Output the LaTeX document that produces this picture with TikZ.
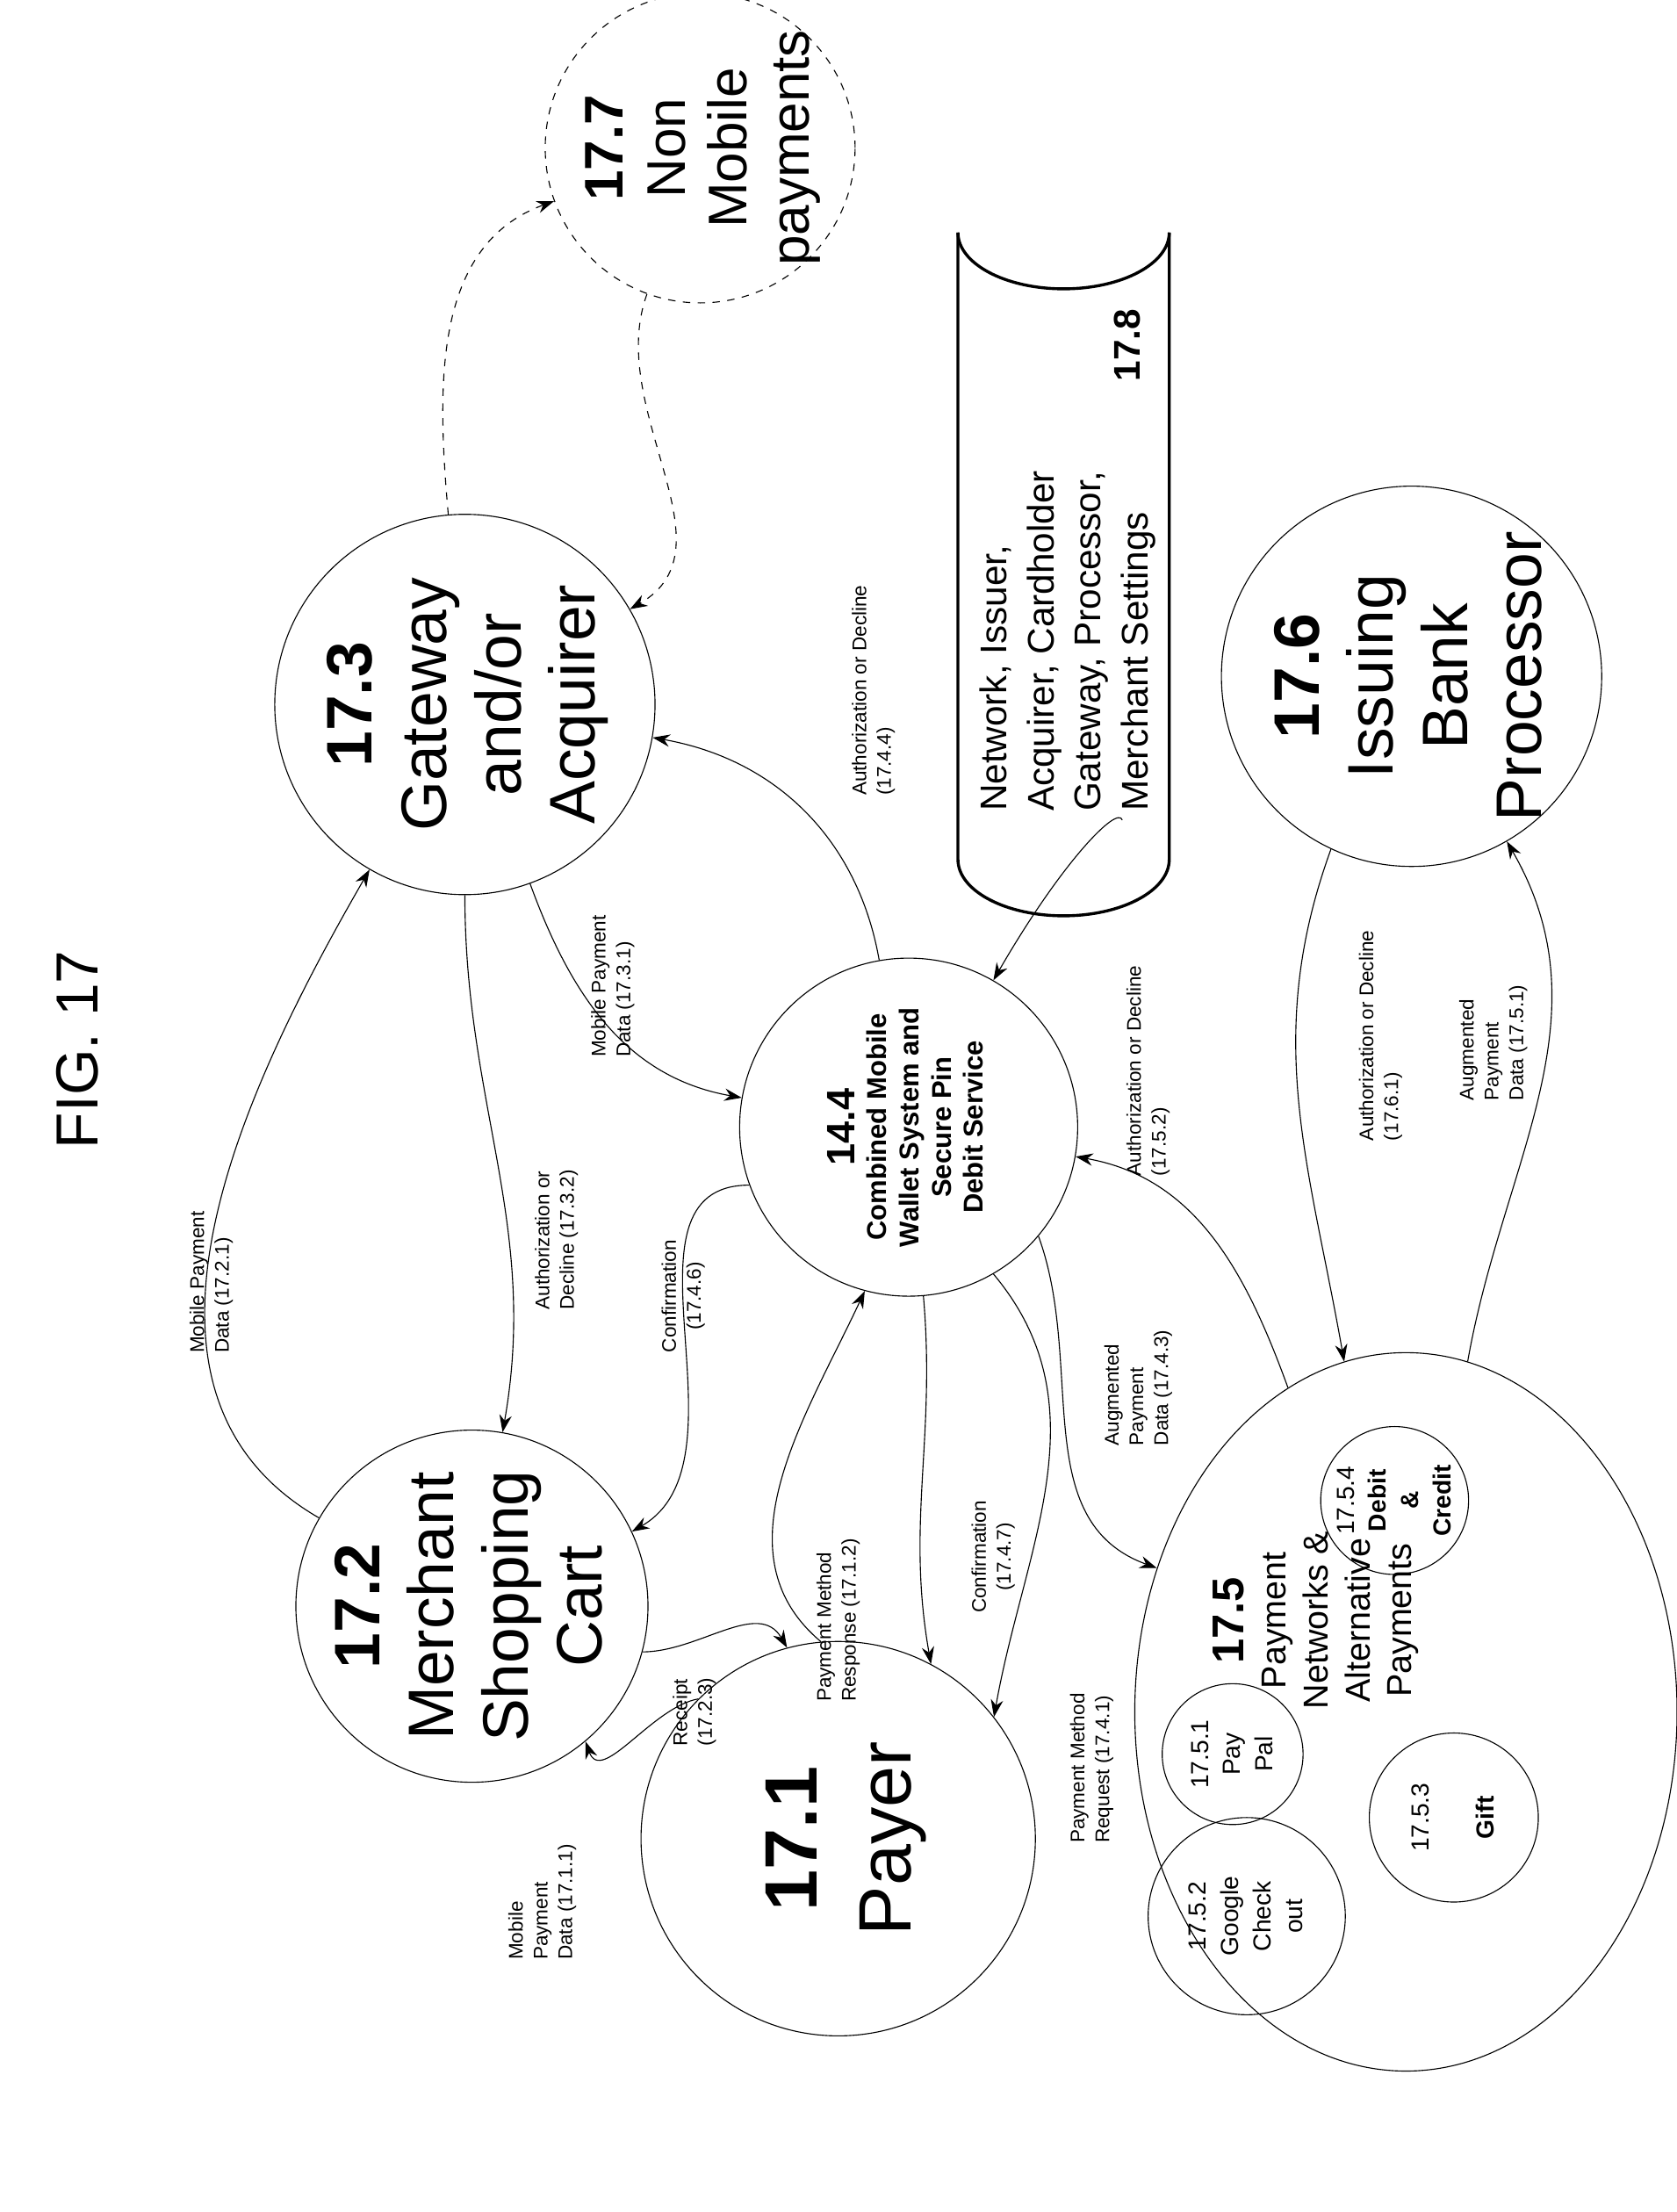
\documentclass[tikz,border=0pt]{standalone}
\usepackage{fontspec}
\setmainfont{Liberation Sans}
\usetikzlibrary{shapes.geometric,arrows.meta}
\newcommand{\rt}[1]{\rotatebox{90}{\makebox[0pt]{\raisebox{-0.3em}[0pt][0pt]{\begin{tabular}{@{}c@{}}#1\end{tabular}}}}}

\begin{document}
\begin{tikzpicture}[x=0.02cm, y=0.02cm,
	c/.style={circle, draw, inner sep=0pt},
	big/.style={font=\fontsize{26}{30}\selectfont},
	lbl/.style={rotate=90, align=left, font=\fontsize{8}{10}\selectfont},
	a/.style={-{Stealth[length=7pt,width=5pt]}, thin},
	d/.style={a, dashed}]
	\useasboundingbox (0,0) rectangle (1190,-1570);
	\node[rotate=90, font=\fontsize{24}{28}\selectfont] (fig) at (55,-745) {FIG. 17};

	\node[c, minimum size=5.6cm, font=\fontsize{30}{38}\selectfont] (payer) at (595,-1305) {\rt{\textbf{17.1}\\Payer}};
	\node[c, big, minimum size=5cm] (cart) at (335,-1140) {\rt{\textbf{17.2}\\Merchant\\Shopping\\Cart}};
	\node[c, big, minimum size=5.4cm] (gate) at (330,-500) {\rt{\textbf{17.3}\\Gateway\\and/or\\Acquirer}};
	\node[c, minimum size=4.8cm, font=\fontsize{11}{13}\selectfont\bfseries] (wallet) at (645,-800) {\rt{{\fontsize{16}{18}\selectfont 14.4}\\Combined Mobile\\Wallet System and\\Secure Pin\\Debit Service}};
	\node[c, big, minimum size=5.4cm] (bank) at (1002,-480) {\rt{\textbf{17.6}\\Issuing\\Bank\\Processor}};
	\node[c, dashed, minimum size=4.4cm, font=\fontsize{22}{25}\selectfont] (nonmob) at (497,-105) {\rt{\textbf{17.7}\\Non\\Mobile\\payments}};

	% payment networks
	\node[ellipse, draw, minimum width=7.7cm, minimum height=10.2cm] (net) at (998,-1215) {};
	\node[font=\fontsize{14}{17}\selectfont] (netlbl) at (935,-1150) {\rt{{\fontsize{18}{20}\selectfont\textbf{17.5}}\\Payment\\Networks \&\\Alternative\\Payments}};
	\node[c, minimum size=2.1cm, font=\fontsize{10}{13}\selectfont] (debit) at (990,-1065) {\rt{17.5.4\\\textbf{Debit}\\\textbf{\&}\\\textbf{Credit}}};
	\node[c, minimum size=2cm, font=\fontsize{10}{13}\selectfont] (paypal) at (875,-1245) {\rt{17.5.1\\Pay\\Pal}};
	\node[c, minimum size=2.8cm, font=\fontsize{10}{13}\selectfont] (google) at (885,-1360) {\rt{17.5.2\\Google\\Check\\out}};
	\node[c, minimum size=2.4cm, font=\fontsize{10}{13}\selectfont] (gift) at (1032,-1290) {\rt{17.5.3\\\\\textbf{Gift}}};

	% settings store
	\draw[line width=1.2pt] (680,-165) arc[start angle=180, end angle=360, x radius=75, y radius=40];
	\draw[line width=1.2pt] (680,-165) -- (680,-610) arc[start angle=180, end angle=360, x radius=75, y radius=40] -- (830,-165);
	\node[rotate=90, align=left, font=\fontsize{15}{19}\selectfont] (settings) at (758,-455) {Network, Issuer,\\Acquirer, Cardholder\\Gateway, Processor,\\Merchant Settings};
	\node[rotate=90, font=\fontsize{15}{18}\selectfont\bfseries] (stlbl) at (800,-245) {17.8};

	% connectors
	\draw[a] (payer.135) to[out=190,in=-70] (cart.-50);
	\node[lbl] (l1) at (385,-1350) {Mobile\\Payment\\Data (17.1.1)};
	\draw[a] (cart.-15) to[out=0,in=120] (payer.105);
	\node[lbl] (l2) at (493,-1215) {Receipt\\(17.2.3)};
	\draw[a] (cart) to[out=150,in=-120] (gate);
	\node[lbl] (l3) at (150,-910) {Mobile Payment\\Data (17.2.1)};
	\draw[a] (gate) to[out=-90,in=80] (cart);
	\node[lbl] (l4) at (395,-880) {Authorization or\\Decline (17.3.2)};
	\draw[a] (gate) to[out=-70,in=170] (wallet);
	\node[lbl] (l5) at (435,-700) {Mobile Payment\\Data (17.3.1)};
	\draw[a] (wallet) to[out=100,in=-10] (gate);
	\node[lbl] (l6) at (620,-490) {Authorization or Decline\\(17.4.4)};
	\draw[a] (wallet.200) to[out=180,in=30] (cart.25);
	\node[lbl, align=center] (l7) at (485,-920) {Confirmation\\(17.4.6)};
	\draw[a] (payer.95) to[out=140,in=-115] (wallet.-105);
	\node[lbl] (l8) at (595,-1150) {Payment Method\\Response (17.1.2)};
	\draw[a] (wallet.-85) to[out=-85,in=100] (payer.62);
	\node[lbl, align=center] (l9) at (705,-1105) {Confirmation\\(17.4.7)};
	\draw[a] (wallet.-60) to[out=-50,in=80] (payer.38);
	\node[lbl] (l10) at (775,-1255) {Payment Method\\Request (17.4.1)};
	\draw[a] (wallet.-40) to[out=-70,in=160] (net.150);
	\node[lbl] (l11) at (808,-985) {Augmented\\Payment\\Data (17.4.3)};
	\draw[a] (net) to[out=110,in=-10] (wallet);
	\node[lbl] (l12) at (815,-760) {Authorization or Decline\\(17.5.2)};
	\draw[a] (settings) to[out=-110,in=60] (wallet);
	\draw[a] (bank.-115) to[out=-110,in=100] (net);
	\node[lbl] (l13) at (980,-735) {Authorization or Decline\\(17.6.1)};
	\draw[a] (net) to[out=80,in=-60] (bank);
	\node[lbl] (l14) at (1060,-740) {Augmented\\Payment\\Data (17.5.1)};
	\draw[d] (gate) to[out=95,in=200] (nonmob);
	\draw[d] (nonmob) to[out=-110,in=30] (gate);
\end{tikzpicture}
\end{document}
